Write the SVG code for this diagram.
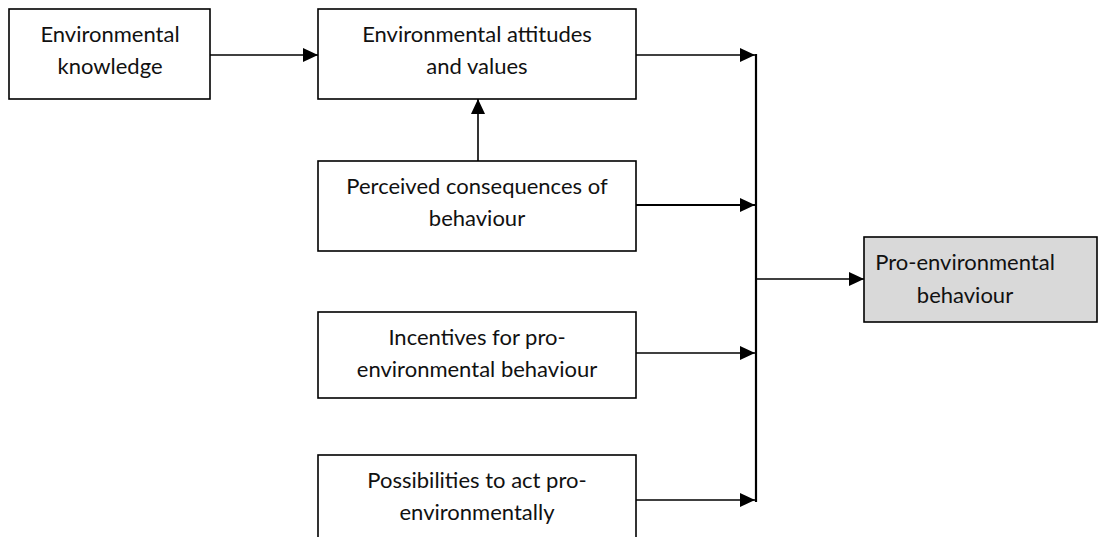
<svg xmlns="http://www.w3.org/2000/svg" width="1098" height="537" viewBox="0 0 1098 537">
  <style>
    .box { fill: #ffffff; stroke: #000000; stroke-width: 1.6; }
    .box.out { fill: #d9d9d9; }
    .lbl { font-family: Lato, "Open Sans", "Liberation Sans", sans-serif; font-size: 22px; fill: #111111; text-anchor: middle; }
    .wire { fill: none; stroke: #000000; stroke-width: 1.6; }
    .wire.thick { stroke-width: 2.2; }
  </style>
  <defs>
    <marker id="head" markerUnits="userSpaceOnUse" markerWidth="16" markerHeight="14" refX="15" refY="7" orient="auto">
      <path d="M0,0 L15,7 L0,14 z" fill="#000000"/>
    </marker>
  </defs>

  <rect width="1098" height="537" fill="#ffffff"/>

  <g id="connectors">
    <line class="wire" x1="210" y1="55" x2="318" y2="55" marker-end="url(#head)"/>
    <line class="wire" x1="478" y1="161" x2="478" y2="99" marker-end="url(#head)"/>
    <line class="wire" x1="636" y1="55" x2="755" y2="55" marker-end="url(#head)"/>
    <line class="wire thick" x1="636" y1="205" x2="755" y2="205" marker-end="url(#head)"/>
    <line class="wire" x1="636" y1="353" x2="755" y2="353" marker-end="url(#head)"/>
    <line class="wire" x1="636" y1="500" x2="755" y2="500" marker-end="url(#head)"/>
    <line class="wire thick" x1="756" y1="54" x2="756" y2="502"/>
    <line class="wire" x1="756" y1="279" x2="864" y2="279" marker-end="url(#head)"/>
  </g>

  <g id="knowledge">
    <rect class="box" x="9" y="9" width="201" height="90"/>
    <text class="lbl" x="110" y="42">Environmental</text>
    <text class="lbl" x="110" y="74">knowledge</text>
  </g>

  <g id="attitudes">
    <rect class="box" x="318" y="9" width="318" height="90"/>
    <text class="lbl" x="477" y="42">Environmental attitudes</text>
    <text class="lbl" x="477" y="74">and values</text>
  </g>

  <g id="consequences">
    <rect class="box" x="318" y="161" width="318" height="90"/>
    <text class="lbl" x="477" y="194">Perceived consequences of</text>
    <text class="lbl" x="477" y="226">behaviour</text>
  </g>

  <g id="incentives">
    <rect class="box" x="318" y="312" width="318" height="86"/>
    <text class="lbl" x="477" y="345">Incentives for pro-</text>
    <text class="lbl" x="477" y="377">environmental behaviour</text>
  </g>

  <g id="possibilities">
    <rect class="box" x="318" y="455" width="318" height="90"/>
    <text class="lbl" x="477" y="488">Possibilities to act pro-</text>
    <text class="lbl" x="477" y="520">environmentally</text>
  </g>

  <g id="behaviour">
    <rect class="box out" x="864" y="237" width="233" height="85"/>
    <text class="lbl" x="965" y="270">Pro-environmental</text>
    <text class="lbl" x="965" y="303">behaviour</text>
  </g>
</svg>
